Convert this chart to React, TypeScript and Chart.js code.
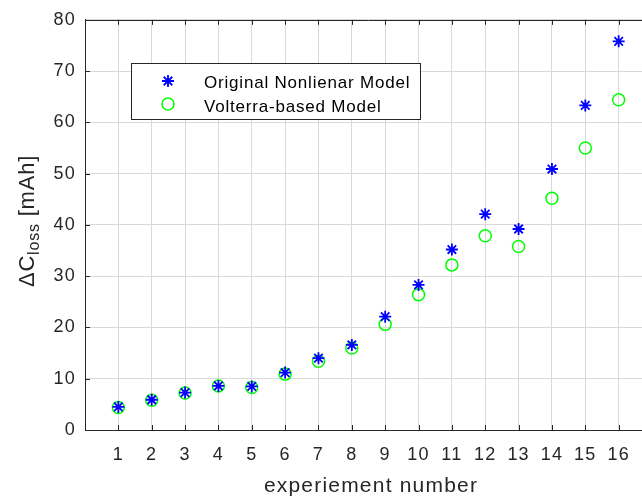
import React, { useEffect, useRef } from "react";
import { Chart, registerables } from "chart.js";

Chart.register(...registerables);

const experiments = [1, 2, 3, 4, 5, 6, 7, 8, 9, 10, 11, 12, 13, 14, 15, 16];
const originalNonlinear = [4.5, 5.9, 7.3, 8.6, 8.5, 11.2, 14.0, 16.6, 22.1, 28.3, 35.2, 42.1, 39.2, 50.9, 63.3, 75.8];
const volterraBased = [4.4, 5.8, 7.2, 8.6, 8.3, 10.9, 13.4, 16.0, 20.6, 26.4, 32.2, 37.9, 35.8, 45.2, 55.0, 64.4];
const seriesNames = ["Original Nonlienar Model", "Volterra-based Model"];
const xTitle = "experiement number";
const yTitleMain = "\u0394C";
const yTitleSub = "loss";
const yTitleRest = " [mAh]";

const AXIS = "#262626";
const GRID = "#d9d9d9";
const FONT = "'Liberation Sans', Arial, Helvetica, sans-serif";

export default function App() {
  const ref = useRef<HTMLCanvasElement | null>(null);

  useEffect(() => {
    const canvas = ref.current!;
    const decor = {
      id: "decor",
      beforeDraw(chart: any) {
        (chart.ctx as any).letterSpacing = "1.2px";
      },
      afterDraw(chart: any) {
        const ctx = chart.ctx as CanvasRenderingContext2D;
        const a = chart.chartArea;
        const xs = chart.scales.x;
        const ys = chart.scales.y;
        ctx.save();
        (ctx as any).letterSpacing = "0px";
        // top border
        ctx.strokeStyle = AXIS;
        ctx.lineWidth = 1;
        ctx.beginPath();
        ctx.moveTo(a.left, Math.round(a.top) + 0.5);
        ctx.lineTo(a.right, Math.round(a.top) + 0.5);
        ctx.stroke();
        // inward ticks
        ctx.beginPath();
        for (let v = 1; v <= 16; v++) {
          const px = Math.round(xs.getPixelForValue(v)) + 0.5;
          ctx.moveTo(px, a.bottom);
          ctx.lineTo(px, a.bottom - 5);
          ctx.moveTo(px, a.top);
          ctx.lineTo(px, a.top + 5);
        }
        for (let v = 0; v <= 80; v += 10) {
          const py = Math.round(ys.getPixelForValue(v)) + 0.5;
          ctx.moveTo(a.left, py);
          ctx.lineTo(a.left + 5, py);
        }
        ctx.stroke();

        // legend
        const lx = 131.5, ly = 63.5, lw = 289, lh = 56;
        ctx.fillStyle = "#ffffff";
        ctx.fillRect(lx, ly, lw, lh);
        ctx.strokeStyle = AXIS;
        ctx.strokeRect(lx, ly, lw, lh);
        // star
        const sx = 168, sy = 81, r = 6;
        ctx.strokeStyle = "#0000ff";
        ctx.lineWidth = 1.8;
        ctx.beginPath();
        ctx.moveTo(sx - r, sy); ctx.lineTo(sx + r, sy);
        ctx.moveTo(sx, sy - r); ctx.lineTo(sx, sy + r);
        const d = r * Math.SQRT1_2;
        ctx.moveTo(sx - d, sy - d); ctx.lineTo(sx + d, sy + d);
        ctx.moveTo(sx - d, sy + d); ctx.lineTo(sx + d, sy - d);
        ctx.stroke();
        ctx.strokeStyle = "#00ff00";
        ctx.lineWidth = 1.5;
        ctx.beginPath();
        ctx.arc(168, 104, 6, 0, Math.PI * 2);
        ctx.stroke();
        ctx.fillStyle = "#000000";
        ctx.font = `17px ${FONT}`;
        (ctx as any).letterSpacing = "0.8px";
        ctx.textAlign = "left";
        ctx.textBaseline = "alphabetic";
        ctx.fillText(seriesNames[0], 204, 88);
        ctx.fillText(seriesNames[1], 204, 112);

        // x title
        ctx.fillStyle = AXIS;
        ctx.font = `21px ${FONT}`;
        (ctx as any).letterSpacing = "1.2px";
        ctx.textAlign = "center";
        ctx.fillText(xTitle, 371, 492);

        // y title
        ctx.translate(34, 221);
        ctx.rotate(-Math.PI / 2);
        (ctx as any).letterSpacing = "0.8px";
        ctx.textAlign = "left";
        ctx.font = `22px ${FONT}`;
        const w1 = ctx.measureText(yTitleMain).width;
        const w3 = ctx.measureText(yTitleRest).width;
        ctx.font = `16px ${FONT}`;
        const w2 = ctx.measureText(yTitleSub).width;
        const start = -(w1 + w2 + w3) / 2;
        ctx.font = `22px ${FONT}`;
        ctx.fillText(yTitleMain, start, 0);
        ctx.font = `16px ${FONT}`;
        ctx.fillText(yTitleSub, start + w1, 5);
        ctx.font = `22px ${FONT}`;
        ctx.fillText(yTitleRest, start + w1 + w2, 0);
        ctx.restore();
      },
    };

    const chart = new Chart(canvas, {
      type: "scatter",
      data: {
        datasets: [
          {
            label: seriesNames[0],
            data: experiments.map((x, i) => ({ x, y: originalNonlinear[i] })),
            pointStyle: "star",
            radius: 6,
            borderColor: "#0000ff",
            backgroundColor: "#0000ff",
            borderWidth: 1.8,
          },
          {
            label: seriesNames[1],
            data: experiments.map((x, i) => ({ x, y: volterraBased[i] })),
            pointStyle: "circle",
            radius: 6,
            borderColor: "#00ff00",
            backgroundColor: "rgba(0,0,0,0)",
            borderWidth: 1.5,
          },
        ],
      },
      options: {
        responsive: false,
        animation: false,
        devicePixelRatio: 1,
        layout: { padding: { left: 0, right: 18, top: 13, bottom: 0 } },
        plugins: { legend: { display: false }, tooltip: { enabled: false } },
        scales: {
          x: {
            type: "linear",
            min: 0,
            max: 17,
            afterFit: (s: any) => { s.height = 67; },
            grid: { color: GRID, drawTicks: false, lineWidth: 1 },
            border: { display: true, color: AXIS, width: 1 },
            ticks: {
              stepSize: 1,
              padding: 14,
              color: AXIS,
              font: { family: FONT, size: 18 },
              maxRotation: 0,
              autoSkip: false,
              callback: (v: any) => (experiments.includes(Number(v)) ? String(v) : ""),
            },
          },
          y: {
            min: 0,
            max: 80,
            afterFit: (s: any) => { s.width = 85; },
            grid: { color: GRID, drawTicks: false, lineWidth: 1 },
            border: { display: true, color: AXIS, width: 1 },
            ticks: {
              stepSize: 10,
              padding: 9,
              color: AXIS,
              font: { family: FONT, size: 18 },
            },
          },
        },
      },
      plugins: [decor],
    });
    return () => chart.destroy();
  }, []);

  return (
    <div style={{ position: "fixed", left: 0, top: 0, width: 642, height: 497, overflow: "hidden", background: "#fff" }}>
      <canvas ref={ref} width={670} height={497} style={{ width: 670, height: 497, display: "block" }} />
    </div>
  );
}
